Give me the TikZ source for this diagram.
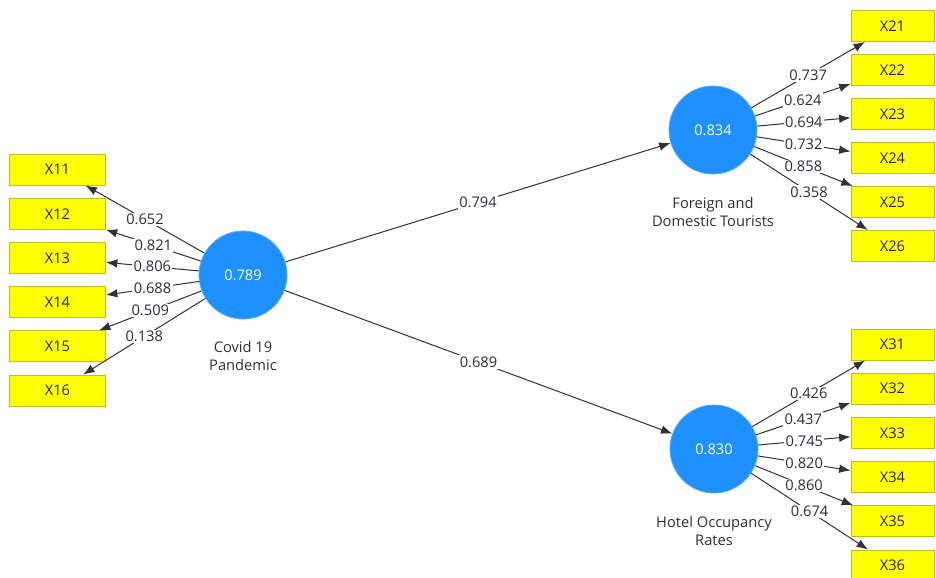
\documentclass[tikz,border=0pt]{standalone}
\usepackage{fontspec}
\setmainfont{Open Sans}
\usepackage{tikz}
\usetikzlibrary{arrows.meta,positioning,shapes,calc}

\definecolor{lvblue}{RGB}{30,144,255}
\definecolor{indyellow}{RGB}{255,255,0}
\definecolor{indborder}{RGB}{190,190,20}
\definecolor{lbltext}{RGB}{45,45,60}
\definecolor{linegray}{RGB}{50,50,50}

\tikzset{
  lv/.style={circle,fill=lvblue,draw=lvblue!75!white,line width=0.6pt,
    minimum size=66pt,inner sep=0pt,text=white,
    font=\fontsize{11}{12}\selectfont},
  ind/.style={rectangle,fill=indyellow,draw=indborder,line width=0.75pt,
    minimum width=72pt,minimum height=23.25pt,inner sep=0pt,text=black!85,
    font=\fontsize{11}{12}\selectfont},
  indr/.style={ind,minimum width=62.25pt},
  lvname/.style={align=center,text=lbltext,
    font=\fontsize{11}{14}\selectfont},
  load/.style={draw=linegray,line width=0.75pt,-{Latex[length=8.5pt,width=6.5pt]}},
  lbl/.style={fill=white,inner sep=1pt,text=lbltext,
    font=\fontsize{11}{12}\selectfont}
}

\begin{document}
\begin{tikzpicture}[x=0.75pt,y=-0.75pt]
  \useasboundingbox (0,0) rectangle (936,578);

  % latent variables
  \node[lv] (covid) at (243,275) {0.789};
  \node[lv] (tour)  at (713,130) {0.834};
  \node[lv] (hotel) at (714,449) {0.830};

  \node[lvname] (covidname) at (243,356) {Covid 19\\Pandemic};
  \node[lvname] (tourname)  at (713,212) {Foreign and\\Domestic Tourists};
  \node[lvname] (hotelname) at (714,531) {Hotel Occupancy\\Rates};

  % indicators of covid
  \node[ind] (x11) at (57.5,169.5) {X11};
  \node[ind] (x12) at (57.5,213.7) {X12};
  \node[ind] (x13) at (57.5,257.9) {X13};
  \node[ind] (x14) at (57.5,302.1) {X14};
  \node[ind] (x15) at (57.5,346.3) {X15};
  \node[ind] (x16) at (57.5,390.5) {X16};

  % indicators of tourists
  \node[indr] (x21) at (892.5,26) {X21};
  \node[indr] (x22) at (892.5,70) {X22};
  \node[indr] (x23) at (892.5,114) {X23};
  \node[indr] (x24) at (892.5,158) {X24};
  \node[indr] (x25) at (892.5,202) {X25};
  \node[indr] (x26) at (892.5,246) {X26};

  % indicators of hotel
  \node[indr] (x31) at (892.5,344.5) {X31};
  \node[indr] (x32) at (892.5,388.7) {X32};
  \node[indr] (x33) at (892.5,432.9) {X33};
  \node[indr] (x34) at (892.5,477.1) {X34};
  \node[indr] (x35) at (892.5,521.3) {X35};
  \node[indr] (x36) at (892.5,565.5) {X36};

  % path coefficients
  \draw[load] (covid) -- (tour)  node[midway,lbl] {0.794};
  \draw[load] (covid) -- (hotel) node[midway,lbl] {0.689};

  % loadings covid
  \draw[load] (covid) -- (x11) node[midway,lbl] {0.652};
  \draw[load] (covid) -- (x12) node[midway,lbl] {0.821};
  \draw[load] (covid) -- (x13) node[midway,lbl] {0.806};
  \draw[load] (covid) -- (x14) node[midway,lbl] {0.688};
  \draw[load] (covid) -- (x15) node[midway,lbl] {0.509};
  \draw[load] (covid) -- (x16) node[midway,lbl] {0.138};

  % loadings tourists
  \draw[load] (tour) -- (x21) node[midway,lbl] {0.737};
  \draw[load] (tour) -- (x22) node[midway,lbl] {0.624};
  \draw[load] (tour) -- (x23) node[midway,lbl] {0.694};
  \draw[load] (tour) -- (x24) node[midway,lbl] {0.732};
  \draw[load] (tour) -- (x25) node[midway,lbl] {0.858};
  \draw[load] (tour) -- (x26) node[midway,lbl] {0.358};

  % loadings hotel
  \draw[load] (hotel) -- (x31) node[midway,lbl] {0.426};
  \draw[load] (hotel) -- (x32) node[midway,lbl] {0.437};
  \draw[load] (hotel) -- (x33) node[midway,lbl] {0.745};
  \draw[load] (hotel) -- (x34) node[midway,lbl] {0.820};
  \draw[load] (hotel) -- (x35) node[midway,lbl] {0.860};
  \draw[load] (hotel) -- (x36) node[midway,lbl] {0.674};
\end{tikzpicture}
\end{document}
